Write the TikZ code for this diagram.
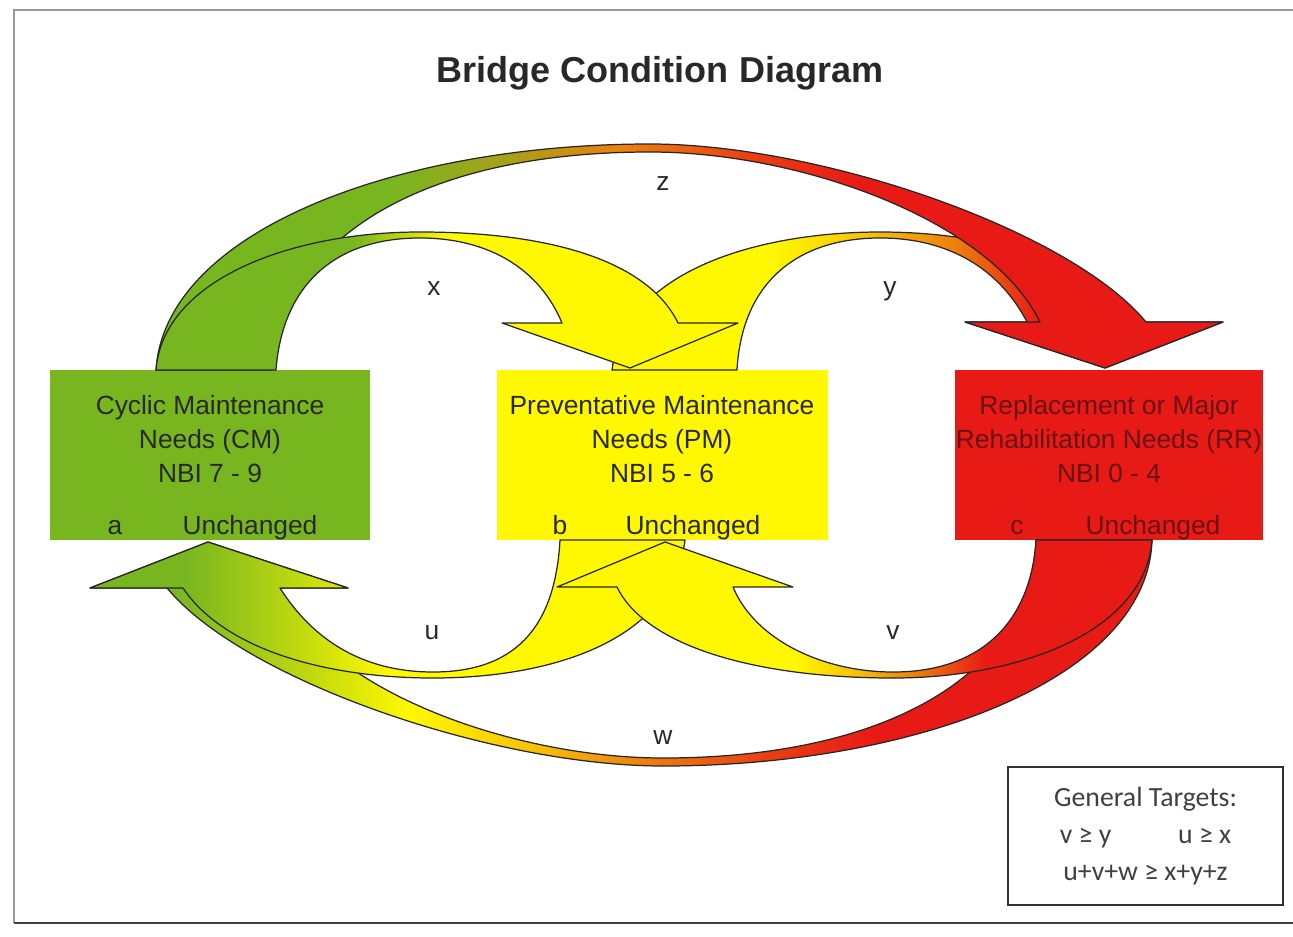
\documentclass[tikz,border=0pt]{standalone}
\usepackage{fontspec}
\setmainfont{Liberation Sans}
\newfontfamily\calibri{Carlito}
\usepackage{xcolor}
\usepackage{tikz}

\definecolor{cmgreen}{RGB}{120,182,32}
\definecolor{pmyellow}{RGB}{255,248,0}
\definecolor{rrred}{RGB}{232,26,22}
\definecolor{midorange}{RGB}{238,128,12}
\definecolor{rrtext}{RGB}{105,18,22}
\definecolor{labelgray}{RGB}{40,40,40}
\colorlet{zolive}{cmgreen!55!midorange}
\colorlet{redorange}{rrred!65!midorange}
\colorlet{yelorange}{pmyellow!55!midorange}
\colorlet{greenyellow}{cmgreen!50!pmyellow}

% colour runs of the flows (25bp = left end, 75bp = right end)
\pgfdeclarehorizontalshading{zshade}{100bp}{color(0bp)=(cmgreen); color(36bp)=(cmgreen); color(42bp)=(zolive); color(47bp)=(midorange); color(53bp)=(redorange); color(58bp)=(rrred); color(100bp)=(rrred)}
\pgfdeclarehorizontalshading{xshade}{100bp}{color(0bp)=(cmgreen); color(42bp)=(cmgreen); color(50bp)=(pmyellow); color(100bp)=(pmyellow)}
\pgfdeclarehorizontalshading{yshade}{100bp}{color(0bp)=(pmyellow); color(38bp)=(pmyellow); color(46bp)=(yelorange); color(53bp)=(midorange); color(60bp)=(rrred); color(100bp)=(rrred)}
\pgfdeclarehorizontalshading{ushade}{100bp}{color(0bp)=(cmgreen); color(33bp)=(cmgreen); color(42bp)=(greenyellow); color(50bp)=(pmyellow); color(100bp)=(pmyellow)}
\pgfdeclarehorizontalshading{vshade}{100bp}{color(0bp)=(pmyellow); color(45bp)=(pmyellow); color(50bp)=(yelorange); color(55bp)=(midorange); color(61bp)=(rrred); color(100bp)=(rrred)}
\pgfdeclarehorizontalshading{wshade}{100bp}{color(0bp)=(cmgreen); color(29bp)=(cmgreen); color(35bp)=(greenyellow); color(40bp)=(pmyellow); color(46bp)=(yelorange); color(51bp)=(midorange); color(57bp)=(redorange); color(62bp)=(rrred); color(100bp)=(rrred)}

\begin{document}
\begin{tikzpicture}[x=0.02cm, y=-0.02cm,
    needbox/.style={rectangle, inner sep=0pt, minimum height=3.4cm},
    boxtext/.style={align=center, font=\fontsize{15}{19.3}\selectfont, text=labelgray},
    flow/.style={draw=black!85, line width=0.7pt, line join=round},
    flowlabel/.style={anchor=base, font=\fontsize{15}{18}\selectfont, text=labelgray}
]
    \useasboundingbox (0,0) rectangle (1293,936);

    % Frame
    \draw[black!40, line width=1.1pt] (1293,10) -- (14,10) -- (14,923);
    \draw[black!75, line width=1.6pt] (14,923) -- (1293,923);

    % Title
    \node[anchor=base, font=\bfseries\fontsize{20.5}{24}\selectfont, text=labelgray] (title) at (660,83) {Bridge Condition Diagram};

    % Condition boxes
    \node[needbox, fill=cmgreen, minimum width=6.4cm] (cm) at (210,455) {};
    \node[needbox, fill=pmyellow, minimum width=6.62cm] (pm) at (662.5,455) {};
    \node[needbox, fill=rrred, minimum width=6.16cm] (rr) at (1109,455) {};

    \node[boxtext] (cmname) at (210,439) {Cyclic Maintenance\\Needs (CM)\\NBI 7 - 9};
    \node[boxtext, anchor=base] (cma) at (115,534) {a};
    \node[boxtext, anchor=base] (cmsame) at (250,534) {Unchanged};

    \node[boxtext] (pmname) at (662,439) {Preventative Maintenance\\Needs (PM)\\NBI 5 - 6};
    \node[boxtext, anchor=base] (pmb) at (560,534) {b};
    \node[boxtext, anchor=base] (pmsame) at (693,534) {Unchanged};

    \node[boxtext, text=rrtext] (rrname) at (1109,439) {Replacement or Major\\Rehabilitation Needs (RR)\\NBI 0 - 4};
    \node[boxtext, text=rrtext, anchor=base] (rrc) at (1017,534) {c};
    \node[boxtext, text=rrtext, anchor=base] (rrsame) at (1153,534) {Unchanged};

    % Flows over the top
    \shadedraw[flow, shading=yshade] (612,370) .. controls (625,270) and (760,232) .. (880,232)
        .. controls (990,232) and (1090,262) .. (1130,322) -- (1223,322) -- (1105,368) -- (965,322) -- (1027,322)
        .. controls (1000,270) and (950,238) .. (880,238) .. controls (800,238) and (742,280) .. (737,370) -- cycle;
    \shadedraw[flow, shading=zshade] (156,370) .. controls (165,230) and (400,144) .. (650,144)
        .. controls (820,144) and (1070,230) .. (1146,322) -- (1223,322) -- (1105,368) -- (965,322) -- (1040,322)
        .. controls (990,220) and (800,152) .. (650,152) .. controls (420,152) and (282,240) .. (272,370) -- cycle;
    \shadedraw[flow, shading=xshade] (156,370) .. controls (163,280) and (290,232) .. (420,232)
        .. controls (560,232) and (650,265) .. (678,323) -- (738,323) -- (630,368) -- (502,323) -- (562,323)
        .. controls (540,270) and (490,238) .. (420,238) .. controls (330,238) and (282,290) .. (276,370) -- cycle;

    % Flows underneath
    \shadedraw[flow, shading=wshade] (1152,540) .. controls (1148,680) and (913,766) .. (663,766)
        .. controls (493,766) and (243,680) .. (167,588) -- (90,588) -- (208,542) -- (348,588) -- (280,588)
        .. controls (323,690) and (513,758) .. (663,758) .. controls (893,758) and (1031,670) .. (1036,540) -- cycle;
    \shadedraw[flow, shading=ushade] (685,540) .. controls (672,640) and (553,678) .. (433,678)
        .. controls (323,678) and (223,648) .. (183,588) -- (90,588) -- (208,542) -- (348,588) -- (280,588)
        .. controls (313,640) and (363,672) .. (433,672) .. controls (513,672) and (555,630) .. (560,540) -- cycle;
    \shadedraw[flow, shading=vshade] (1152,540) .. controls (1145,630) and (1023,678) .. (893,678)
        .. controls (753,678) and (645,645) .. (617,587) -- (557,587) -- (665,542) -- (793,587) -- (733,587)
        .. controls (755,640) and (823,672) .. (893,672) .. controls (983,672) and (1031,620) .. (1036,540) -- cycle;

    % Flow labels
    \node[flowlabel] (zlab) at (663,190) {z};
    \node[flowlabel] (xlab) at (434,295) {x};
    \node[flowlabel] (ylab) at (890,295) {y};
    \node[flowlabel] (ulab) at (432,639) {u};
    \node[flowlabel] (vlab) at (893,639) {v};
    \node[flowlabel] (wlab) at (663,744) {w};

    % Targets
    \node[draw=black!80, line width=1.1pt, minimum width=5.5cm, minimum height=2.76cm, align=center,
        font=\calibri\fontsize{15.8}{21}\selectfont, text=black!75] (targets) at (1145.5,836)
        {General Targets:\\v ≥ y\hspace{38pt}u ≥ x\\u+v+w ≥ x+y+z};

\end{tikzpicture}
\end{document}
